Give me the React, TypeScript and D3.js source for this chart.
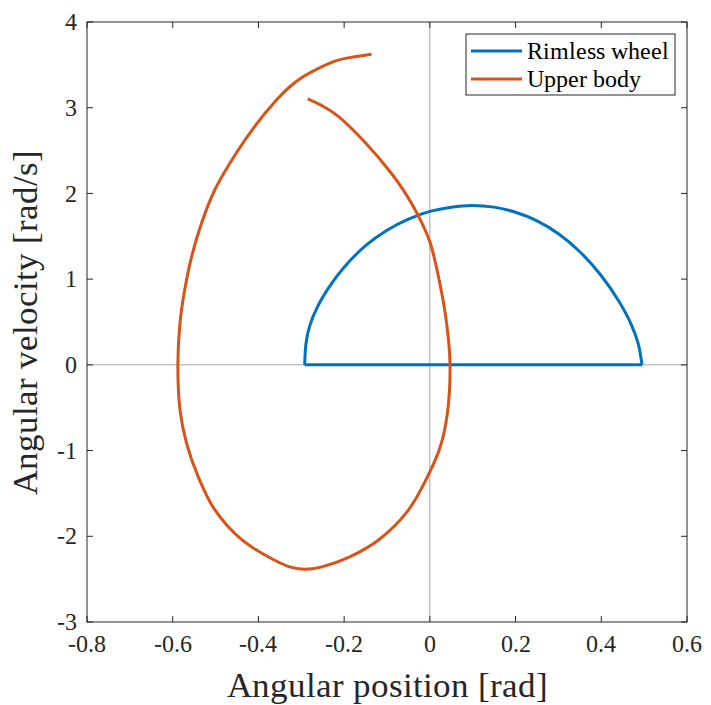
import React from 'react';
import * as d3 from 'd3';

type Pt = [number, number];

// rimless wheel: upper arc, closed back along zero velocity
const wheelArc: Pt[] = [
  [-0.292, 0], [-0.289, 0.25], [-0.28, 0.46], [-0.262, 0.68], [-0.232, 0.93],
  [-0.2, 1.14], [-0.15, 1.39], [-0.1, 1.57], [-0.05, 1.70], [0, 1.79],
  [0.05, 1.84], [0.097, 1.86], [0.15, 1.84], [0.2, 1.78], [0.25, 1.68],
  [0.3, 1.53], [0.35, 1.32], [0.4, 1.04], [0.44, 0.75], [0.47, 0.47],
  [0.486, 0.25], [0.495, 0]
];

// upper body: inner end first, then clockwise
const upperBody: Pt[] = [
  [-0.285, 3.104], [-0.25, 3.02], [-0.215, 2.905], [-0.152, 2.60], [-0.089, 2.23],
  [-0.058, 2.01], [-0.028, 1.75], [0, 1.435], [0.023, 0.957], [0.039, 0.49],
  [0.047, 0.01], [0.041, -0.56], [0.0245, -0.953], [-0.007, -1.32], [-0.051, -1.70],
  [-0.119, -2.04], [-0.187, -2.24], [-0.254, -2.36], [-0.289, -2.385], [-0.325, -2.36],
  [-0.362, -2.28], [-0.439, -2.04], [-0.502, -1.69], [-0.541, -1.30], [-0.568, -0.91],
  [-0.583, -0.525], [-0.588, 0], [-0.583, 0.49], [-0.572, 0.875], [-0.556, 1.26],
  [-0.533, 1.65], [-0.502, 2.04], [-0.467, 2.35], [-0.412, 2.76], [-0.358, 3.09],
  [-0.33, 3.23], [-0.296, 3.36], [-0.26, 3.46], [-0.218, 3.55], [-0.175, 3.595],
  [-0.136, 3.625]
];

const xTicks = [-0.8, -0.6, -0.4, -0.2, 0, 0.2, 0.4, 0.6];
const yTicks = [-3, -2, -1, 0, 1, 2, 3, 4];
const seriesNames = ['Rimless wheel', 'Upper body'];
const seriesColors = ['#0072BD', '#D95319'];

const W = 711, H = 705;
const margin = {top: 22, right: 24, bottom: 83, left: 87};
const width = W - margin.left - margin.right;
const height = H - margin.top - margin.bottom;
const font = "ChartSerif, 'Liberation Serif', serif";
const axisColor = '#262626';
const tick = 6;

const css =
  "@font-face { font-family: 'ChartSerif'; src: local('Liberation Serif'), local('LiberationSerif'); }" +
  " text { font-family: ChartSerif, 'Liberation Serif', serif; }";

const App = () => {
  const x = d3.scaleLinear().domain([-0.8, 0.6]).range([0, width]);
  const y = d3.scaleLinear().domain([-3, 4]).range([height, 0]);

  const line = d3.line<Pt>()
    .x(d => x(d[0]))
    .y(d => y(d[1]))
    .curve(d3.curveCatmullRom.alpha(0.5));
  const straight = d3.line<Pt>().x(d => x(d[0])).y(d => y(d[1]));

  return (
    <svg
      width={W}
      height={H}
      fontFamily={font}
      style={{position: 'absolute', left: 0, top: 0, background: '#fff'}}
    >
      <style>{css}</style>
      <g transform={`translate(${margin.left}, ${margin.top})`}>
        {/* zero lines */}
        <line x1={x(0)} x2={x(0)} y1={0} y2={height} stroke="#a6a6a6" strokeWidth={1} />
        <line x1={0} x2={width} y1={y(0)} y2={y(0)} stroke="#a6a6a6" strokeWidth={1} />

        {/* rimless wheel */}
        <path d={line(wheelArc) || ''} fill="none" stroke={seriesColors[0]} strokeWidth={3} />
        <path
          d={straight([wheelArc[wheelArc.length - 1], wheelArc[0]]) || ''}
          fill="none" stroke={seriesColors[0]} strokeWidth={3}
        />

        {/* upper body */}
        <path d={line(upperBody) || ''} fill="none" stroke={seriesColors[1]} strokeWidth={3} />

        {/* box */}
        <rect x={0} y={0} width={width} height={height} fill="none" stroke={axisColor} strokeWidth={1} />

        {/* ticks, inside on all sides */}
        {xTicks.map(t => (
          <g key={'x' + t}>
            <line x1={x(t)} x2={x(t)} y1={height} y2={height - tick} stroke={axisColor} />
            <line x1={x(t)} x2={x(t)} y1={0} y2={tick} stroke={axisColor} />
            <text
              x={x(t)} y={height + 13} dy="0.71em"
              textAnchor="middle" fontSize={24} fill={axisColor}
            >
              {String(t)}
            </text>
          </g>
        ))}
        {yTicks.map(t => (
          <g key={'y' + t}>
            <line x1={0} x2={tick} y1={y(t)} y2={y(t)} stroke={axisColor} />
            <line x1={width} x2={width - tick} y1={y(t)} y2={y(t)} stroke={axisColor} />
            <text
              x={-10} y={y(t)} dy="0.34em"
              textAnchor="end" fontSize={24} fill={axisColor}
            >
              {String(t)}
            </text>
          </g>
        ))}

        {/* axis labels */}
        <text
          x={width / 2} y={height + 75}
          textAnchor="middle" fontSize={35} fill={axisColor}
        >
          Angular position [rad]
        </text>
        <text
          transform="rotate(-90)"
          x={-height / 2} y={-50}
          textAnchor="middle" fontSize={35} fill={axisColor}
        >
          Angular velocity [rad/s]
        </text>
      </g>

      {/* legend */}
      <g transform="translate(466, 34)">
        <rect width={209} height={61} fill="#fff" stroke={axisColor} strokeWidth={1} />
        {seriesNames.map((name, i) => {
          const cy = 17 + i * 28;
          return (
            <g key={name}>
              <line x1={5} x2={56} y1={cy} y2={cy} stroke={seriesColors[i]} strokeWidth={3} />
              <text x={61} y={cy} dy="0.35em" fontSize={24} fill="#000">
                {name}
              </text>
            </g>
          );
        })}
      </g>
    </svg>
  );
};

export default App;
